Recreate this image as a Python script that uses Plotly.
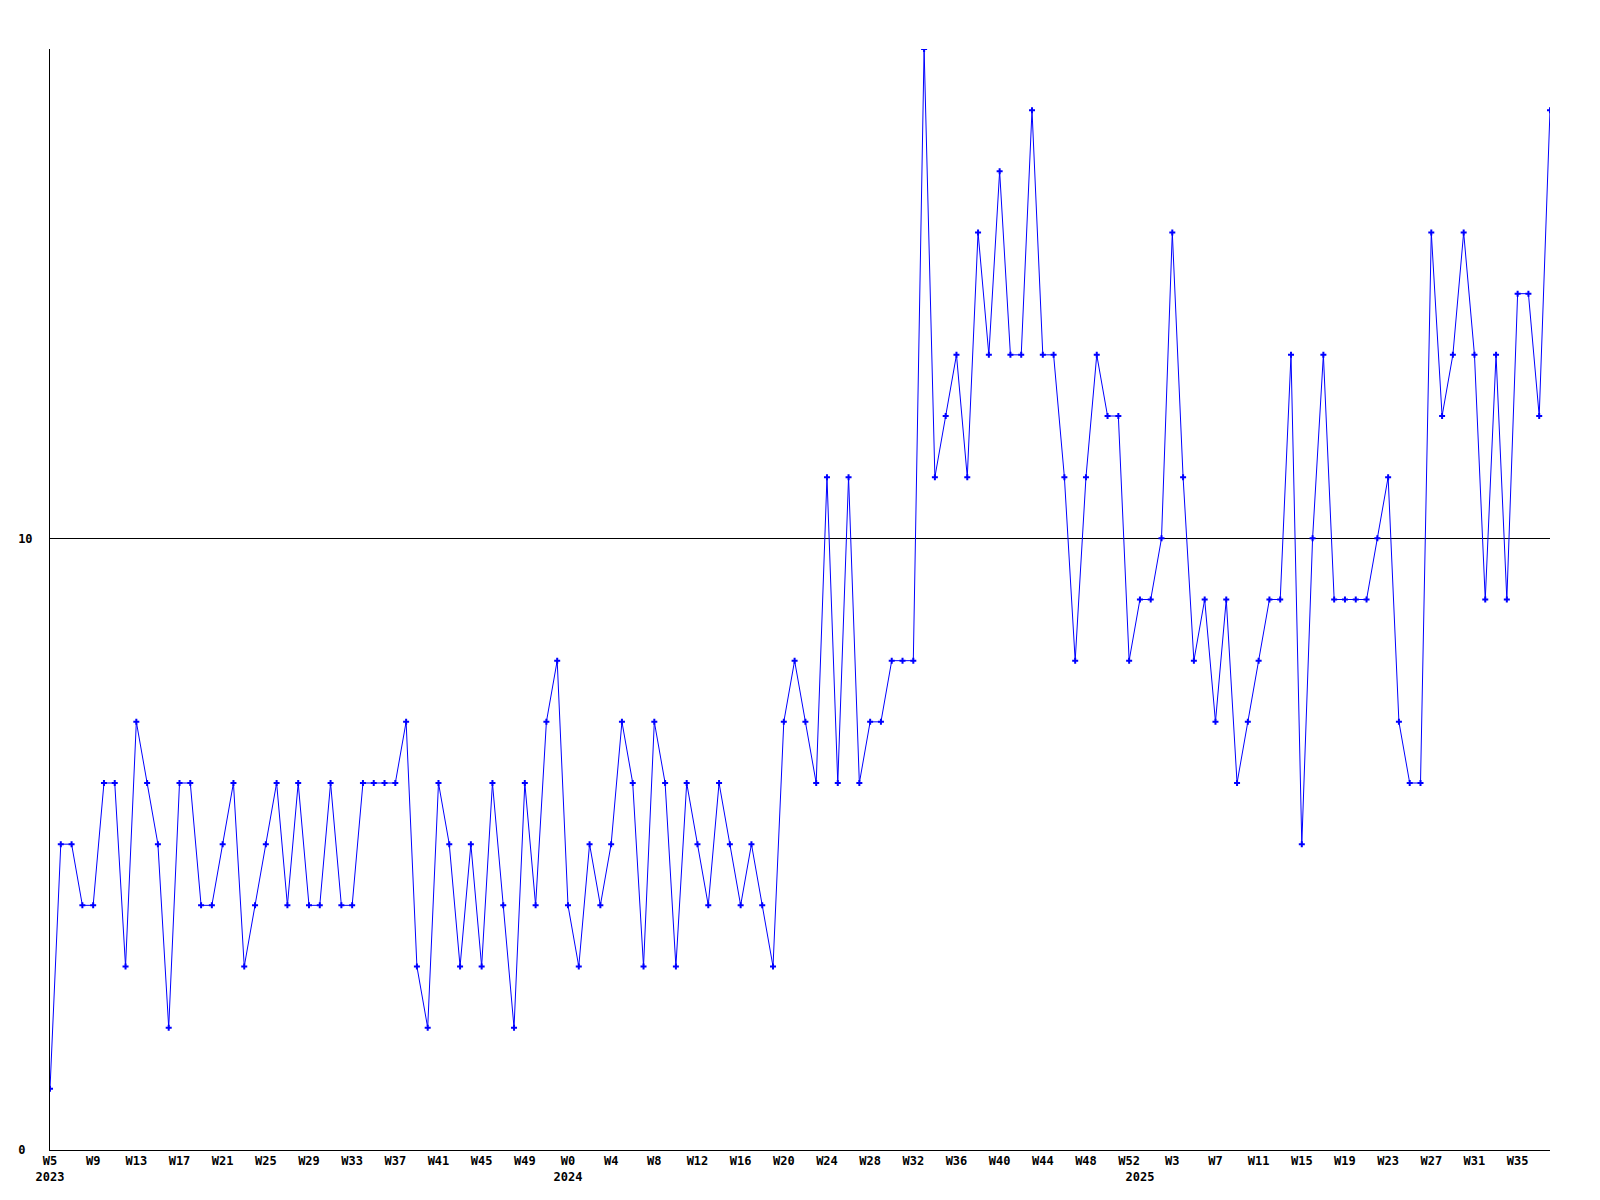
import plotly.graph_objects as go

# weekly values, W5 2023 .. W38 2025
weeks = list(range(140))
values = [
    1, 5, 5, 4, 4, 6, 6, 3, 7, 6, 5, 2, 6, 6, 4, 4, 5, 6, 3, 4,
    5, 6, 4, 6, 4, 4, 6, 4, 4, 6, 6, 6, 6, 7, 3, 2, 6, 5, 3, 5,
    3, 6, 4, 2, 6, 4, 7, 8, 4, 3, 5, 4, 5, 7, 6, 3, 7, 6, 3, 6,
    5, 4, 6, 5, 4, 5, 4, 3, 7, 8, 7, 6, 11, 6, 11, 6, 7, 7, 8, 8,
    8, 18, 11, 12, 13, 11, 15, 13, 16, 13, 13, 17, 13, 13, 11, 8, 11, 13, 12, 12,
    8, 9, 9, 10, 15, 11, 8, 9, 7, 9, 6, 7, 8, 9, 9, 13, 5, 10, 13, 9,
    9, 9, 9, 10, 11, 7, 6, 6, 15, 12, 13, 15, 13, 9, 13, 9, 14, 14, 12, 17,
]

tick_pos = [0, 4, 8, 12, 16, 20, 24, 28, 32, 36, 40, 44,
            48, 52, 56, 60, 64, 68, 72, 76, 80, 84, 88, 92, 96, 100,
            101, 104, 108, 112, 116, 120, 124, 128, 132, 136]
tick_text = ["W5<br>2023", "W9", "W13", "W17", "W21", "W25", "W29", "W33", "W37", "W41", "W45", "W49",
             "W0<br>2024", "W4", "W8", "W12", "W16", "W20", "W24", "W28", "W32", "W36", "W40", "W44", "W48", "W52",
             " <br>2025", "W3", "W7", "W11", "W15", "W19", "W23", "W27", "W31", "W35"]

y_ticks = [0, 10]
y_labels = ["0\u00a0", "10"]  # labels are left-aligned in the original

fig = go.Figure()
fig.add_trace(go.Scatter(
    x=weeks,
    y=values,
    mode="lines+markers",
    line=dict(color="#0000ff", width=1),
    marker=dict(symbol="cross", size=5, color="#0000ff", line=dict(width=0)),
    showlegend=False,
))

tick_font = dict(family="DejaVu Sans Mono", size=12, color="black", weight="bold")

# page body has an 8px margin, so the plot box is shifted back by that
fig.update_layout(
    width=1600,
    height=1200,
    margin=dict(l=42, r=58, t=41, b=58),
    plot_bgcolor="white",
    paper_bgcolor="white",
    xaxis=dict(
        range=[0, 139],
        tickmode="array",
        tickvals=tick_pos,
        ticktext=tick_text,
        tickfont=tick_font,
        tickangle=0,
        automargin=False,
        showgrid=False,
        zeroline=False,
        showline=True,
        linecolor="black",
        linewidth=1,
        ticks="",
    ),
    yaxis=dict(
        range=[0, 18],
        tickmode="array",
        tickvals=y_ticks,
        ticktext=y_labels,
        tickfont=tick_font,
        automargin=False,
        showgrid=True,
        gridcolor="black",
        gridwidth=1,
        zeroline=False,
        showline=True,
        linecolor="black",
        linewidth=1,
        ticks="",
        ticklabelstandoff=14,
    ),
)

fig.write_html("out.html")
